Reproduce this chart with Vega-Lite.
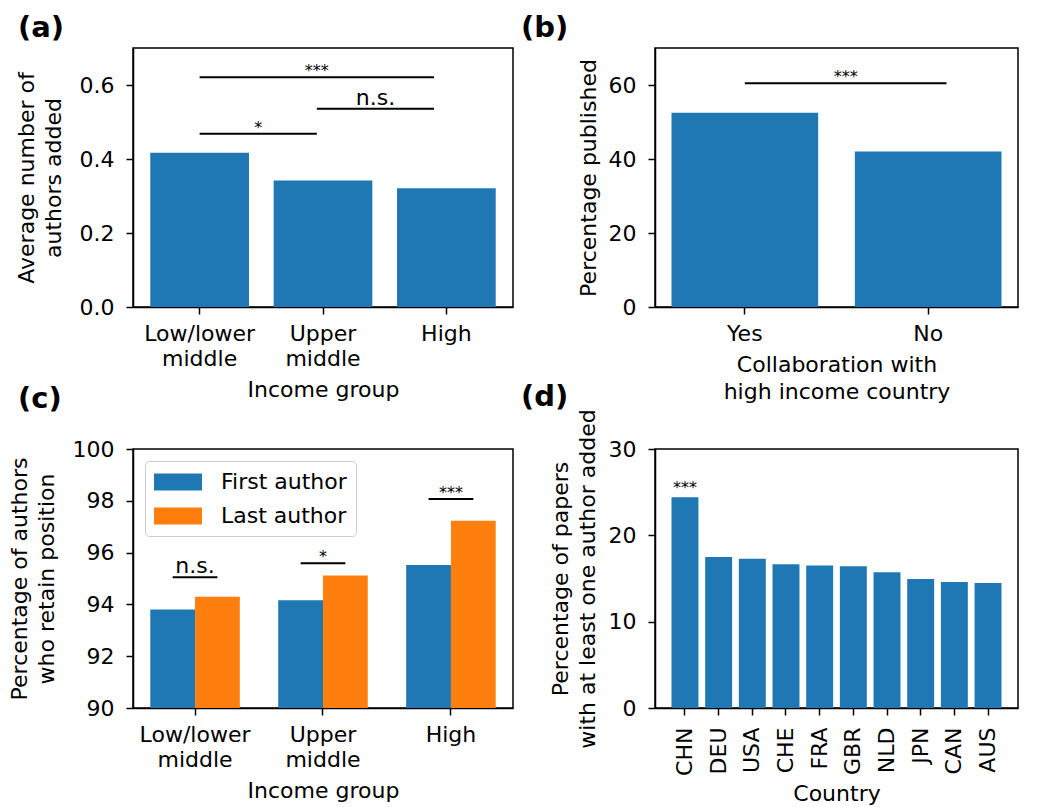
{
  "$schema": "https://vega.github.io/schema/vega-lite/v6.json",
  "background": "white",
  "padding": {"left": 7, "top": 13, "right": 5, "bottom": 5},
  "columns": 2,
  "bounds": "flush",
  "spacing": 142,
  "resolve": {"scale": {"color": "independent"}, "legend": {"color": "independent"}},
  "config": {
    "font": "DejaVu Sans",
    "view": {"stroke": "black", "strokeWidth": 1.5},
    "axis": {
      "domainColor": "black", "domainWidth": 1.5,
      "tickColor": "black", "tickWidth": 1.5, "tickSize": 7,
      "labelColor": "black", "labelFontSize": 22, "labelFont": "DejaVu Sans",
      "labelLineHeight": 25,
      "titleColor": "black", "titleFontSize": 22, "titleFontWeight": "normal", "titleFont": "DejaVu Sans",
      "titleLineHeight": 27,
      "grid": false, "labelPadding": 6, "titlePadding": 8
    },
    "axisX": {"labelPadding": 9, "titlePadding": 10},
    "axisY": {"labelPadding": 12, "titlePadding": 14},
    "title": {"fontSize": 29, "fontWeight": "bold", "anchor": "start", "frame": "group", "color": "black"}
  },
  "concat": [
    {
      "width": 380, "height": 259,
      "title": {"text": "(a)", "dx": -115, "offset": 5},
      "layer": [
        {
          "data": {"values": [
            {"group": "Low/lower middle", "value": 0.417},
            {"group": "Upper middle", "value": 0.342},
            {"group": "High", "value": 0.321}
          ]},
          "mark": {"type": "bar", "color": "#1f77b4"},
          "encoding": {
            "x": {"field": "group", "type": "nominal", "sort": null,
              "scale": {"paddingInner": 0.2, "paddingOuter": 0.14},
              "axis": {"title": "Income group", "labelAngle": 0,
                "labelExpr": "datum.label == 'Low/lower middle' ? ['Low/lower','middle'] : datum.label == 'Upper middle' ? ['Upper','middle'] : datum.label"}},
            "y": {"field": "value", "type": "quantitative",
              "scale": {"domain": [0, 0.7], "nice": false},
              "axis": {"values": [0, 0.2, 0.4, 0.6], "format": ".1f", "title": ["Average number of", "authors added"]}}
          }
        },
        {
          "data": {"name": "bra"},
          "mark": {"type": "rule", "color": "black", "strokeWidth": 2},
          "encoding": {
            "x": {"field": "x1", "type": "quantitative", "scale": {"domain": [-0.54, 2.54], "nice": false, "zero": false}, "axis": null},
            "x2": {"field": "x2"},
            "y": {"field": "y", "type": "quantitative"}
          }
        },
        {
          "data": {"name": "bra"},
          "transform": [{"filter": "datum.label != 'n.s.'"}],
          "mark": {"type": "text", "fontSize": 16, "baseline": "alphabetic", "dy": -1, "color": "black"},
          "encoding": {
            "x": {"field": "xm", "type": "quantitative", "scale": {"domain": [-0.54, 2.54], "nice": false, "zero": false}, "axis": null},
            "y": {"field": "y", "type": "quantitative"},
            "text": {"field": "label"}
          }
        },
        {
          "data": {"name": "bra"},
          "transform": [{"filter": "datum.label == 'n.s.'"}],
          "mark": {"type": "text", "fontSize": 22, "baseline": "alphabetic", "dy": -4, "color": "black"},
          "encoding": {
            "x": {"field": "xm", "type": "quantitative", "scale": {"domain": [-0.54, 2.54], "nice": false, "zero": false}, "axis": null},
            "y": {"field": "y", "type": "quantitative"},
            "text": {"field": "label"}
          }
        }
      ],
      "resolve": {"scale": {"x": "independent"}}
    },
    {
      "width": 363, "height": 259,
      "title": {"text": "(b)", "dx": -134, "offset": 5},
      "layer": [
        {
          "data": {"values": [
            {"collab": "Yes", "value": 52.5},
            {"collab": "No", "value": 42.0}
          ]},
          "mark": {"type": "bar", "color": "#1f77b4"},
          "encoding": {
            "x": {"field": "collab", "type": "nominal", "sort": null,
              "scale": {"paddingInner": 0.2, "paddingOuter": 0.09},
              "axis": {"title": ["Collaboration with", "high income country"], "labelAngle": 0}},
            "y": {"field": "value", "type": "quantitative",
              "scale": {"domain": [0, 70], "nice": false},
              "axis": {"values": [0, 20, 40, 60], "title": "Percentage published", "titlePadding": 8}}
          }
        },
        {
          "data": {"name": "brb"},
          "mark": {"type": "rule", "color": "black", "strokeWidth": 2},
          "encoding": {
            "x": {"field": "x1", "type": "quantitative", "scale": {"domain": [-0.49, 1.49], "nice": false, "zero": false}, "axis": null},
            "x2": {"field": "x2"},
            "y": {"field": "y", "type": "quantitative"}
          }
        },
        {
          "data": {"name": "brb"},
          "mark": {"type": "text", "fontSize": 16, "baseline": "alphabetic", "dy": -1, "color": "black"},
          "encoding": {
            "x": {"field": "xm", "type": "quantitative", "scale": {"domain": [-0.49, 1.49], "nice": false, "zero": false}, "axis": null},
            "y": {"field": "y", "type": "quantitative"},
            "text": {"field": "label"}
          }
        }
      ],
      "resolve": {"scale": {"x": "independent"}}
    },
    {
      "width": 380, "height": 259,
      "title": {"text": "(c)", "dx": -115, "offset": 24},
      "layer": [
        {
          "data": {"values": [
            {"group": "Low/lower middle", "role": "First author", "value": 93.80},
            {"group": "Low/lower middle", "role": "Last author", "value": 94.30},
            {"group": "Upper middle", "role": "First author", "value": 94.16},
            {"group": "Upper middle", "role": "Last author", "value": 95.12},
            {"group": "High", "role": "First author", "value": 95.52},
            {"group": "High", "role": "Last author", "value": 97.23}
          ]},
          "mark": {"type": "bar", "clip": true},
          "encoding": {
            "x": {"field": "group", "type": "nominal", "sort": null,
              "scale": {"paddingInner": 0.3, "paddingOuter": 0.135},
              "axis": {"title": "Income group", "labelAngle": 0,
                "labelExpr": "datum.label == 'Low/lower middle' ? ['Low/lower','middle'] : datum.label == 'Upper middle' ? ['Upper','middle'] : datum.label"}},
            "xOffset": {"field": "role", "type": "nominal", "sort": null, "scale": {"paddingInner": 0, "paddingOuter": 0}},
            "y": {"field": "value", "type": "quantitative",
              "scale": {"domain": [90, 100], "nice": false, "zero": false},
              "axis": {"values": [90, 92, 94, 96, 98, 100], "title": ["Percentage of authors", "who retain position"]}},
            "color": {"field": "role", "type": "nominal", "sort": null,
              "scale": {"domain": ["First author", "Last author"], "range": ["#1f77b4", "#ff7f0e"]},
              "legend": {"title": null, "orient": "top-left", "offset": 12,
                "labelFontSize": 22, "labelColor": "black", "labelFont": "DejaVu Sans",
                "symbolType": "M-2,-0.7H2V0.7H-2Z", "symbolSize": 576, "symbolStrokeWidth": 0, "symbolOpacity": 1,
                "symbolOffset": 12,
                "padding": 9, "labelOffset": 31, "rowPadding": 11,
                "strokeColor": "#cccccc", "fillColor": "white", "cornerRadius": 4}}
          }
        },
        {
          "data": {"name": "brc"},
          "mark": {"type": "rule", "color": "black", "strokeWidth": 2},
          "encoding": {
            "x": {"field": "x1", "type": "quantitative", "scale": {"domain": [-0.485, 2.485], "nice": false, "zero": false}, "axis": null},
            "x2": {"field": "x2"},
            "y": {"field": "y", "type": "quantitative"}
          }
        },
        {
          "data": {"name": "brc"},
          "transform": [{"filter": "datum.label != 'n.s.'"}],
          "mark": {"type": "text", "fontSize": 16, "baseline": "alphabetic", "dy": -1, "color": "black"},
          "encoding": {
            "x": {"field": "xm", "type": "quantitative", "scale": {"domain": [-0.485, 2.485], "nice": false, "zero": false}, "axis": null},
            "y": {"field": "y", "type": "quantitative"},
            "text": {"field": "label"}
          }
        },
        {
          "data": {"name": "brc"},
          "transform": [{"filter": "datum.label == 'n.s.'"}],
          "mark": {"type": "text", "fontSize": 22, "baseline": "alphabetic", "dy": -4, "color": "black"},
          "encoding": {
            "x": {"field": "xm", "type": "quantitative", "scale": {"domain": [-0.485, 2.485], "nice": false, "zero": false}, "axis": null},
            "y": {"field": "y", "type": "quantitative"},
            "text": {"field": "label"}
          }
        }
      ],
      "resolve": {"scale": {"x": "independent"}}
    },
    {
      "width": 363, "height": 259,
      "title": {"text": "(d)", "dx": -134, "offset": -3},
      "data": {"values": [
        {"country": "CHN", "value": 24.42, "sig": "***"},
        {"country": "DEU", "value": 17.48, "sig": ""},
        {"country": "USA", "value": 17.28, "sig": ""},
        {"country": "CHE", "value": 16.66, "sig": ""},
        {"country": "FRA", "value": 16.51, "sig": ""},
        {"country": "GBR", "value": 16.43, "sig": ""},
        {"country": "NLD", "value": 15.73, "sig": ""},
        {"country": "JPN", "value": 14.95, "sig": ""},
        {"country": "CAN", "value": 14.60, "sig": ""},
        {"country": "AUS", "value": 14.49, "sig": ""}
      ]},
      "encoding": {
        "x": {"field": "country", "type": "nominal", "sort": null,
          "scale": {"paddingInner": 0.2, "paddingOuter": 0.49},
          "axis": {"title": "Country", "labelAngle": -90, "labelPadding": 12, "titlePadding": 8}},
        "y": {"field": "value", "type": "quantitative",
          "scale": {"domain": [0, 30], "nice": false},
          "axis": {"values": [0, 10, 20, 30], "title": ["Percentage of papers", "with at least one author added"], "titlePadding": 9}}
      },
      "layer": [
        {"mark": {"type": "bar", "color": "#1f77b4"}},
        {"mark": {"type": "text", "fontSize": 16, "baseline": "alphabetic", "dy": -4, "color": "black"},
         "encoding": {"text": {"field": "sig"}}}
      ]
    }
  ],
  "datasets": {
    "bra": [
      {"x1": 0, "x2": 0.95, "xm": 0.475, "y": 0.468, "label": "*"},
      {"x1": 0.95, "x2": 1.9, "xm": 1.425, "y": 0.536, "label": "n.s."},
      {"x1": 0, "x2": 1.9, "xm": 0.95, "y": 0.621, "label": "***"}
    ],
    "brb": [
      {"x1": 0, "x2": 1.1, "xm": 0.55, "y": 60.5, "label": "***"}
    ],
    "brc": [
      {"x1": -0.175, "x2": 0.175, "xm": 0, "y": 95.05, "label": "n.s."},
      {"x1": 0.825, "x2": 1.175, "xm": 1, "y": 95.59, "label": "*"},
      {"x1": 1.825, "x2": 2.175, "xm": 2, "y": 98.07, "label": "***"}
    ]
  }
}
